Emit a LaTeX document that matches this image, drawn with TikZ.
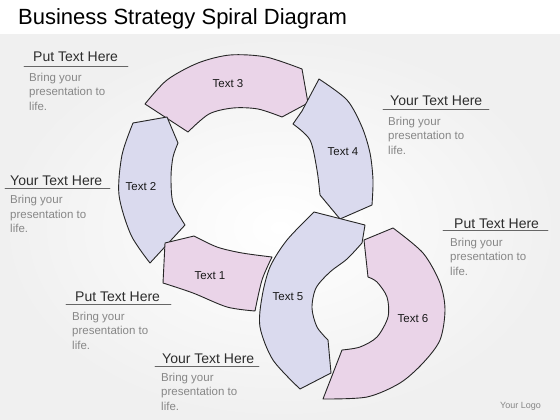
\documentclass[tikz,border=0pt]{standalone}
\usepackage{fontspec}
\setmainfont{Liberation Sans}
\usepackage{xcolor}
\definecolor{pinkfill}{RGB}{234,212,232}
\definecolor{lilacfill}{RGB}{218,218,238}
\definecolor{bggray}{RGB}{240,240,240}
\definecolor{headgray}{RGB}{45,45,45}
\definecolor{bodygray}{RGB}{135,135,135}
\usetikzlibrary{calc}
\tikzset{
  seg/.style={draw=black!85,line width=0.9pt},
  pinkseg/.style={seg,fill=pinkfill},
  lilacseg/.style={seg,fill=lilacfill},
  seglabel/.style={inner sep=0pt,text=black!90,font=\fontsize{11.5}{13}\selectfont},
  headtext/.style={anchor=base west,inner sep=0pt,text=headgray,font=\fontsize{14}{16}\selectfont},
  bodytext/.style={anchor=north west,inner sep=0pt,align=left,text=bodygray,font=\fontsize{11.5}{14.5}\selectfont},
  headline/.style={draw=black!60,line width=0.7pt}
}
\begin{document}
\begin{tikzpicture}[line cap=round,line join=round,x=1pt,y=-1pt]
                \useasboundingbox (0,0) rectangle (560,420);
                \fill [white] (0,0) rectangle (560,35);
                \shade [inner color=white,outer color=bggray] (0,35) rectangle (560,420);
                \node [anchor=base west,inner sep=0pt,text=black,font=\fontsize{22}{26}\selectfont] (title) at (18,25) {Business Strategy Spiral Diagram};
                \draw [pinkseg] plot [smooth] coordinates {(145,104) (167,80) (198,63) (230,55) (266,57) (302,69)}
                    -- (308,103) -- (282,117)
                    -- plot [smooth] coordinates {(282,117) (258,109) (233,108) (209,114) (188,132)} -- cycle;
                \draw [lilacseg] plot [smooth] coordinates {(319,79) (347,100) (362,127) (370,153) (373,180) (372,205)}
                    -- (340,219) -- (320,195)
                    -- plot [smooth] coordinates {(320,195) (317,170) (310,140) (293,124)} -- (302,111) -- cycle;
                \draw [lilacseg] (133,123) -- (167,117) -- (178,143)
                    -- plot [smooth] coordinates {(178,143) (173,157) (171,177) (173,203) (185,225)} -- (150,263)
                    -- plot [smooth] coordinates {(150,263) (131,235) (119,195) (122,155) (133,123)} -- cycle;
                \draw [pinkseg] (165,243) -- (194,236)
                    -- plot [smooth] coordinates {(194,236) (217,247) (242,253) (272,257)}
                    -- plot [smooth] coordinates {(272,257) (262,280) (255,311)}
                    -- plot [smooth] coordinates {(255,311) (227,307) (193,293) (163,283)} -- cycle;
                \draw [pinkseg] (364,240) -- (393,228)
                    -- plot [smooth] coordinates {(393,228) (423,253) (440,283) (445,310) (440,340) (423,363) (400,383) (367,397) (323,399)}
                    -- (342,350)
                    -- plot [smooth] coordinates {(342,350) (360,347) (377,337) (388,317) (387,297) (377,282) (368,277)} -- cycle;
                \draw [lilacseg] (314,212) -- (365,225) -- (362,243)
                    -- plot [smooth] coordinates {(362,243) (347,259) (330,272) (316,288) (312,308) (317,327) (328,340)}
                    -- (331,373) -- (300,389)
                    -- plot [smooth] coordinates {(300,389) (273,360) (260,327) (262,297) (270,267) (287,240) (314,212)} -- cycle;
                \node [seglabel] (t1) at (210,276) {Text 1};
                \node [seglabel] (t2) at (141,187) {Text 2};
                \node [seglabel] (t3) at (228,84) {Text 3};
                \node [seglabel] (t4) at (343,152) {Text 4};
                \node [seglabel] (t5) at (288,297) {Text 5};
                \node [seglabel] (t6) at (413,319) {Text 6};
                \node [headtext] (h1) at (33,62) {Put Text Here};
                \draw [headline] (24,66) -- (128,66);
                \node [bodytext] (b1) at (29,72.5) {Bring your\\presentation to\\life.};
                \node [headtext] (h2) at (10,185) {Your Text Here};
                \draw [headline] (5,188) -- (110,188);
                \node [bodytext] (b2) at (10,195) {Bring your\\presentation to\\life.};
                \node [headtext] (h3) at (390,106) {Your Text Here};
                \draw [headline] (383,109) -- (489,109);
                \node [bodytext] (b3) at (388,116.5) {Bring your\\presentation to\\life.};
                \node [headtext] (h4) at (454,228) {Put Text Here};
                \draw [headline] (443,230) -- (548,230);
                \node [bodytext] (b4) at (450,237.5) {Bring your\\presentation to\\life.};
                \node [headtext] (h5) at (75,301) {Put Text Here};
                \draw [headline] (66,304) -- (171,304);
                \node [bodytext] (b5) at (72,311.5) {Bring your\\presentation to\\life.};
                \node [headtext] (h6) at (162,363) {Your Text Here};
                \draw [headline] (155,366) -- (259,366);
                \node [bodytext] (b6) at (161,372.5) {Bring your\\presentation to\\life.};
                \node [anchor=base west,inner sep=0pt,text=bodygray,font=\fontsize{9}{11}\selectfont] (logo) at (500,408) {Your Logo};
            \end{tikzpicture}
\end{document}
